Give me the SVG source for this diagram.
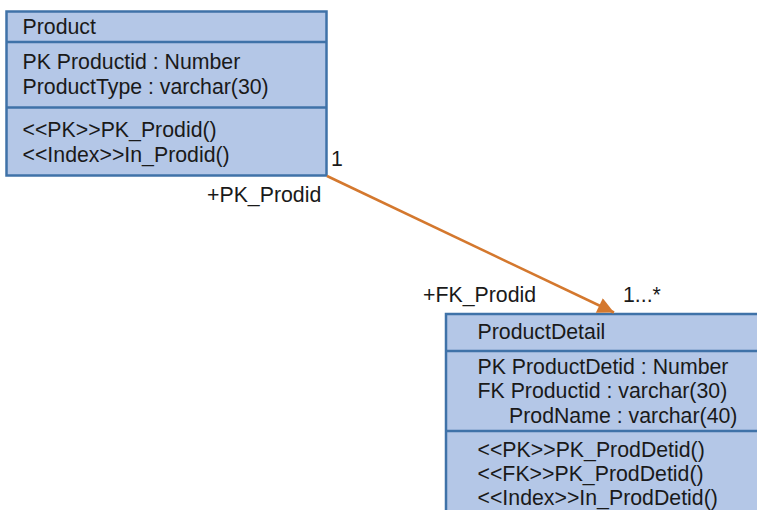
<svg xmlns="http://www.w3.org/2000/svg" width="757" height="510" viewBox="0 0 757 510">
  <style>
    .box { fill: #b4c7e7; stroke: #3f72a8; stroke-width: 2.5; }
    .sep { stroke: #3f72a8; stroke-width: 2.5; }
    text { font-family: "Liberation Sans", Arial, sans-serif; font-size: 21.3px; fill: #1a1a1a; }
    .conn { stroke: #d4782e; stroke-width: 2.5; fill: none; }
  </style>
  <defs>
    <marker id="arrow" viewBox="0 0 10 10" refX="10" refY="5" markerWidth="9" markerHeight="6.5" markerUnits="strokeWidth" orient="auto">
      <path d="M0,0 L10,5 L0,10 Z" fill="#d4782e"/>
    </marker>
  </defs>

  <g id="Product">
    <rect class="box" x="6.5" y="11.5" width="320" height="164"/>
    <line class="sep" x1="6.5" y1="42" x2="326.5" y2="42"/>
    <line class="sep" x1="6.5" y1="107.5" x2="326.5" y2="107.5"/>
    <text x="22.5" y="34">Product</text>
    <text x="22.5" y="69">PK Productid : Number</text>
    <text x="22.5" y="93.5">ProductType : varchar(30)</text>
    <text x="22.5" y="137">&lt;&lt;PK&gt;&gt;PK_Prodid()</text>
    <text x="22.5" y="161.5">&lt;&lt;Index&gt;&gt;In_Prodid()</text>
  </g>

  <g id="ProductDetail">
    <rect class="box" x="446" y="314" width="330" height="220"/>
    <line class="sep" x1="446" y1="351" x2="776" y2="351"/>
    <line class="sep" x1="446" y1="431" x2="776" y2="431"/>
    <text x="477.5" y="339">ProductDetail</text>
    <text x="477.5" y="373.5">PK ProductDetid : Number</text>
    <text x="477.5" y="398">FK Productid : varchar(30)</text>
    <text x="509" y="422.5">ProdName : varchar(40)</text>
    <text x="477.5" y="456.5">&lt;&lt;PK&gt;&gt;PK_ProdDetid()</text>
    <text x="477.5" y="481">&lt;&lt;FK&gt;&gt;PK_ProdDetid()</text>
    <text x="477.5" y="505">&lt;&lt;Index&gt;&gt;In_ProdDetid()</text>
  </g>

  <g id="connectors">
    <line class="conn" x1="327" y1="176" x2="614" y2="312.5" marker-end="url(#arrow)"/>
    <text x="331" y="166">1</text>
    <text x="207" y="201.5">+PK_Prodid</text>
    <text x="423" y="301.5">+FK_Prodid</text>
    <text x="623" y="301.5">1...*</text>
  </g>
</svg>
